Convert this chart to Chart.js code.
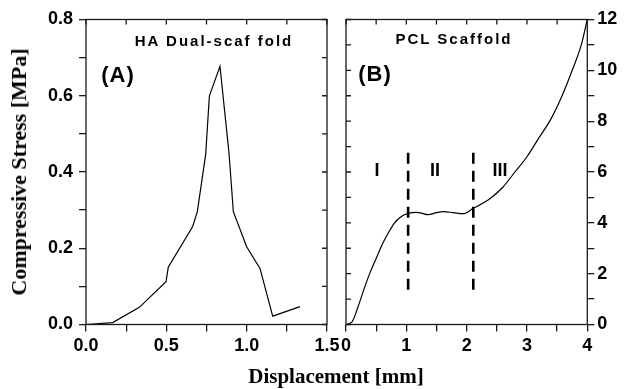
<!DOCTYPE html>
<html>
<head>
<meta charset="utf-8">
<script src="https://cdn.jsdelivr.net/npm/chart.js@4.4.1/dist/chart.umd.min.js"></script>
<style>
body { margin: 0; background: #fff; }
#wrap { position: relative; width: 624px; height: 389px; overflow: hidden; }
canvas { position: absolute; left: 0; top: 0; }
.lbl { position: absolute; font-family: "Liberation Sans", Arial, sans-serif; font-weight: bold; color: #000;
       white-space: nowrap; line-height: 1; transform: translate(-50%, -50%); }
.ttl { position: absolute; font-family: "Liberation Serif", "Times New Roman", serif; font-weight: bold;
       font-size: 21px; color: #000; white-space: nowrap; line-height: 1; transform: translate(-50%, -50%); }
</style>
</head>
<body>
<div id="wrap">
  <canvas id="chartA" width="624" height="389"></canvas>
  <canvas id="chartB" width="624" height="389"></canvas>
  <div class="lbl" style="left:214px;top:40px;font-size:15px;letter-spacing:2px;">HA Dual-scaf fold</div>
  <div class="lbl" style="left:118px;top:75px;font-size:22px;letter-spacing:1px;">(A)</div>
  <div class="lbl" style="left:454px;top:38px;font-size:15px;letter-spacing:2px;">PCL Scaffold</div>
  <div class="lbl" style="left:375px;top:74px;font-size:22px;letter-spacing:1px;">(B)</div>
  <div class="lbl" style="left:377px;top:170px;font-size:18px;">I</div>
  <div class="lbl" style="left:435px;top:170px;font-size:18px;">II</div>
  <div class="lbl" style="left:500px;top:170px;font-size:18px;">III</div>
  <div class="ttl" style="left:336px;top:376px;">Displacement [mm]</div>
  <div class="ttl" style="left:19px;top:172px;font-size:22px;transform:translate(-50%,-50%) rotate(-90deg);">Compressive Stress [MPa]</div>
</div>
<script>
// (A) HA dual-scaffold
const haX = [0, 0.166, 0.332, 0.498, 0.512, 0.664, 0.693, 0.745, 0.768, 0.834, 0.89, 0.917, 1.0, 1.083, 1.162, 1.332];
const haY = [0, 0.005, 0.045, 0.112, 0.150, 0.257, 0.296, 0.447, 0.600, 0.677, 0.45, 0.296, 0.204, 0.147, 0.022, 0.047];

// (B) PCL scaffold
const pclX = [0, 0.1, 0.2, 0.3, 0.4, 0.5, 0.6, 0.7, 0.8, 0.9, 1.03, 1.17, 1.25, 1.36, 1.5, 1.61, 1.78, 1.94, 2.11, 2.39, 2.6, 2.8, 3.0, 3.2, 3.4, 3.6, 3.75, 3.9, 4.0];
const pclY = [0, 0.1, 0.7, 1.4, 2.05, 2.6, 3.15, 3.6, 3.98, 4.22, 4.37, 4.41, 4.38, 4.32, 4.40, 4.44, 4.40, 4.36, 4.57, 4.96, 5.4, 6.0, 6.6, 7.35, 8.1, 9.1, 10.0, 11.0, 12.0];

// region boundaries (dashed) in (B)
const boundX = [1.03, 2.11];
const boundY = [6.76, 1.36];

const tickFont = { family: '"Liberation Sans", Arial, sans-serif', size: 18, weight: 'bold' };
const ink = '#1a1a1a';

function pts(xs, ys) {
    return xs.map((x, i) => ({ x: x, y: ys[i] }));
}

const framePlugin = {
    id: 'frame',
    afterDraw(chart, args, opts) {
        const { ctx, chartArea: a, scales } = chart;
        ctx.save();
        ctx.strokeStyle = ink;
        ctx.lineWidth = 1.3;
        ctx.strokeRect(a.left, a.top, a.right - a.left, a.bottom - a.top);
        ctx.beginPath();
        scales.x.ticks.forEach(t => {
            const px = scales.x.getPixelForValue(t.value);
            ctx.moveTo(px, a.top);
            ctx.lineTo(px, a.top + 5);
        });
        scales.y.ticks.forEach(t => {
            const py = scales.y.getPixelForValue(t.value);
            if (opts.side === 'right') {
                ctx.moveTo(a.right, py);
                ctx.lineTo(a.right - 5, py);
            } else {
                ctx.moveTo(a.left, py);
                ctx.lineTo(a.left + 5, py);
            }
        });
        ctx.stroke();
        ctx.restore();
    }
};

function axisGrid() {
    return { display: true, drawOnChartArea: false, drawTicks: true, tickLength: 7, color: ink, lineWidth: 1.3 };
}

new Chart(document.getElementById('chartA'), {
    type: 'line',
    data: {
        datasets: [{
            data: pts(haX, haY),
            borderColor: '#000',
            borderWidth: 1.2,
            pointRadius: 0,
            tension: 0
        }]
    },
    options: {
        responsive: false,
        animation: false,
        layout: { padding: { left: 0, right: 297, top: 19.5, bottom: 0 } },
        plugins: { legend: { display: false }, tooltip: { enabled: false }, frame: { side: 'right' } },
        scales: {
            x: {
                type: 'linear', min: 0, max: 1.5,
                grid: axisGrid(), border: { display: false },
                ticks: { stepSize: 0.25, autoSkip: false, maxRotation: 0, padding: 4, color: '#000', font: tickFont,
                         callback: (v, i) => i % 2 === 0 ? v.toFixed(1) : '' },
                afterFit: s => { s.height = 64.5; }
            },
            y: {
                type: 'linear', min: 0, max: 0.8,
                grid: axisGrid(), border: { display: false },
                ticks: { stepSize: 0.1, autoSkip: false, maxTicksLimit: 20, padding: 6, color: '#000', font: tickFont,
                         callback: (v, i) => i % 2 === 0 ? v.toFixed(1) : '' },
                afterFit: s => { s.width = 86; }
            }
        }
    },
    plugins: [framePlugin]
});

new Chart(document.getElementById('chartB'), {
    type: 'line',
    data: {
        datasets: [{
            data: pts(pclX, pclY),
            borderColor: '#000',
            borderWidth: 1.2,
            pointRadius: 0,
            tension: 0.3,
            cubicInterpolationMode: 'monotone'
        }, {
            data: pts([boundX[0], boundX[0]], boundY),
            borderColor: '#000',
            borderWidth: 2.6,
            borderDash: [11, 7],
            pointRadius: 0
        }, {
            data: pts([boundX[1], boundX[1]], boundY),
            borderColor: '#000',
            borderWidth: 2.6,
            borderDash: [11, 7],
            pointRadius: 0
        }]
    },
    options: {
        responsive: false,
        animation: false,
        layout: { padding: { left: 346, right: 0, top: 19.5, bottom: 0 } },
        plugins: { legend: { display: false }, tooltip: { enabled: false }, frame: { side: 'left' } },
        scales: {
            x: {
                type: 'linear', min: 0, max: 4,
                grid: axisGrid(), border: { display: false },
                ticks: { stepSize: 0.5, autoSkip: false, maxRotation: 0, padding: 4, color: '#000', font: tickFont,
                         callback: (v, i) => i % 2 === 0 ? String(Math.round(v)) : '' },
                afterFit: s => { s.height = 64.5; }
            },
            y: {
                type: 'linear', position: 'right', min: 0, max: 12,
                grid: axisGrid(), border: { display: false },
                ticks: { stepSize: 1, autoSkip: false, maxTicksLimit: 20, padding: 3, color: '#000', font: tickFont,
                         callback: (v, i) => i % 2 === 0 ? String(Math.round(v)) : '' },
                afterFit: s => { s.width = 36.7; }
            }
        }
    },
    plugins: [framePlugin]
});
</script>
</body>
</html>
